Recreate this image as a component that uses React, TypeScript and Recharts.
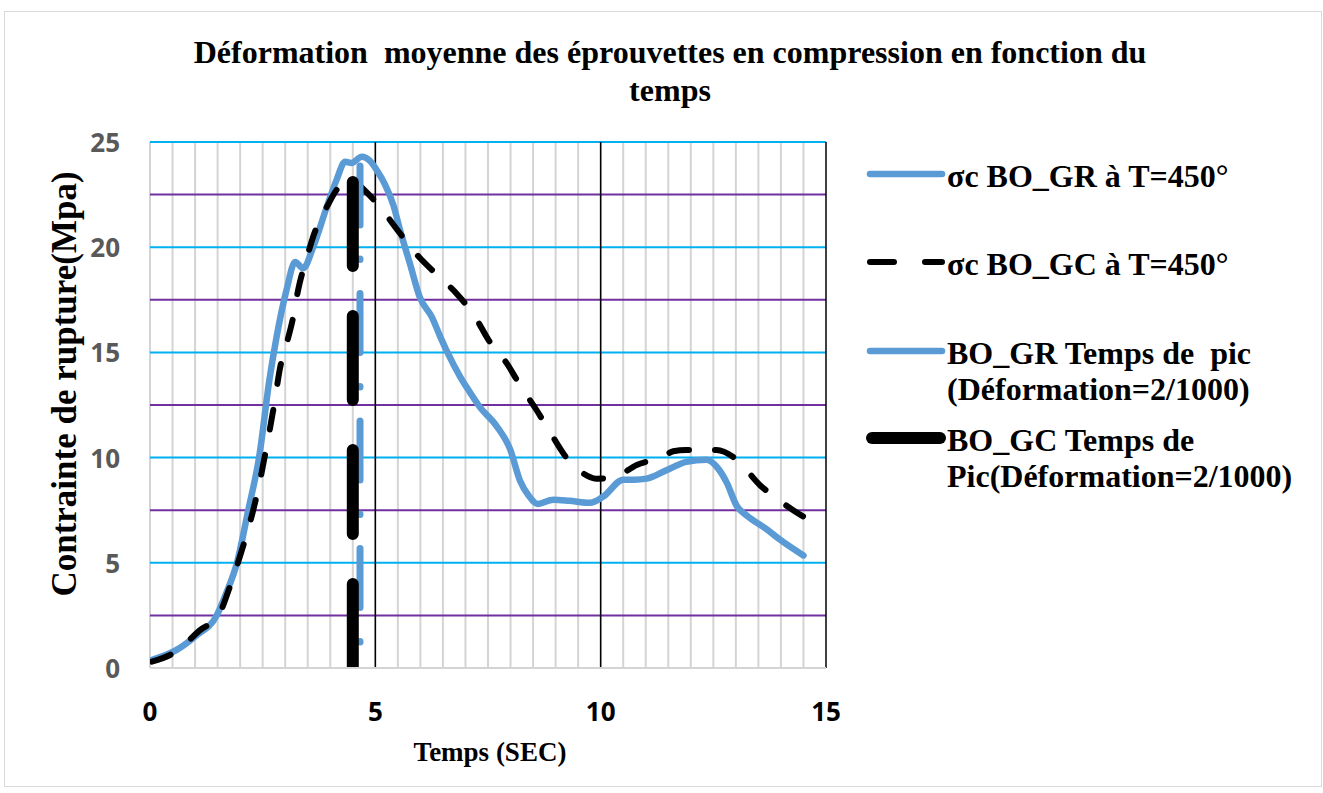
import { LineChart, Line, XAxis, YAxis, ReferenceLine } from 'recharts'

// σc BO_GR à T=450° (blue, solid)
const GR_X = [0.03, 0.59, 1.0, 1.48, 1.7, 1.93, 2.18, 2.42, 2.65, 2.81, 3.03, 3.22, 3.4, 3.62, 3.92, 4.14, 4.33, 4.47, 4.7, 4.88, 5.05, 5.21, 5.4, 5.55, 5.77, 5.99, 6.25, 6.43, 6.6, 6.88, 7.1, 7.32, 7.69, 7.99, 8.21, 8.4, 8.6, 8.95, 9.3, 9.76, 10.06, 10.5, 10.75, 11.02, 11.46, 11.9, 12.35, 12.6, 12.8, 13.02, 13.24, 13.68, 13.98, 14.5]
const GR_Y = [0.38, 0.86, 1.5, 2.5, 3.6, 5.0, 7.5, 10.0, 13.7, 15.75, 17.97, 19.3, 19.0, 20.0, 21.9, 23.2, 24.06, 24.0, 24.3, 24.1, 23.6, 23.0, 22.0, 20.8, 19.2, 17.6, 16.7, 15.8, 15.0, 13.85, 13.1, 12.4, 11.5, 10.4, 8.9, 8.2, 7.8, 8.0, 7.95, 7.85, 8.15, 8.95, 8.95, 9.0, 9.4, 9.8, 9.9, 9.5, 8.8, 7.7, 7.25, 6.6, 6.1, 5.35]

// σc BO_GC à T=450° (black, dashed)
const GC_X = [0.04, 0.59, 1.11, 1.52, 1.77, 1.95, 2.15, 2.29, 2.44, 2.55, 2.68, 2.77, 2.88, 3.03, 3.18, 3.29, 3.48, 3.62, 3.92, 4.22, 4.5, 4.81, 5.14, 5.55, 5.92, 6.36, 6.8, 7.21, 7.51, 7.91, 8.21, 8.58, 8.88, 9.24, 9.61, 9.9, 10.28, 10.8, 11.39, 11.61, 11.9, 12.57, 13.02, 13.53, 13.9, 14.5, 15.0]
const GC_Y = [0.3, 0.8, 1.8, 2.5, 3.85, 5.0, 6.4, 7.5, 8.9, 10.1, 11.6, 12.7, 14.2, 15.4, 16.7, 18.0, 19.5, 20.5, 21.9, 22.9, 23.1, 22.6, 21.8, 20.65, 19.65, 18.7, 17.8, 16.7, 15.6, 14.5, 13.45, 12.25, 11.2, 10.0, 9.25, 9.0, 9.05, 9.65, 10.05, 10.3, 10.36, 10.36, 9.9, 8.7, 8.07, 7.2, 6.75]

// peak time markers
const GR_PEAK_X = [4.66, 4.66]
const GR_PEAK_Y = [0, 24.25]
const GC_PEAK_X = [4.5, 4.5]
const GC_PEAK_Y = [0, 23.1]

const X_TICKS = [0, 5, 10, 15]
const Y_TICKS = [0, 5, 10, 15, 20, 25]
const MINOR_X = [0, 0.5, 1, 1.5, 2, 2.5, 3, 3.5, 4, 4.5, 5, 5.5, 6, 6.5, 7, 7.5, 8, 8.5, 9, 9.5, 10, 10.5, 11, 11.5, 12, 12.5, 13, 13.5, 14, 14.5]
const MAJOR_X = [5, 10, 15]
const CYAN_Y = [5, 10, 15, 20, 25]
const PURPLE_Y = [2.5, 7.5, 12.5, 17.5, 22.5]

const BLUE = '#5b9bd5'
const SERIF = '"Liberation Serif", "Times New Roman", serif'
const SANS = '"Open Sans", "Liberation Sans", sans-serif'

const toPoints = (xs: number[], ys: number[]) => xs.map((x, i) => ({ x, y: ys[i] }))

const grData = toPoints(GR_X, GR_Y)
const gcData = toPoints(GC_X, GC_Y)
const grPeak = toPoints(GR_PEAK_X, GR_PEAK_Y)
const gcPeak = toPoints(GC_PEAK_X, GC_PEAK_Y)

const XTick = (props: any) => {
    const { x, y, payload } = props
    return (
        <text x={x} y={y + 43} textAnchor="middle" dominantBaseline="central" fill="#000" fontSize={26} fontWeight={700} fontFamily={SANS}>
            {payload.value}
        </text>
    )
}

const YTick = (props: any) => {
    const { x, y, payload } = props
    return (
        <text x={x - 30} y={y} textAnchor="end" dominantBaseline="central" fill="#595959" fontSize={26} fontWeight={700} fontFamily={SANS}>
            {payload.value}
        </text>
    )
}

const LEGEND = [
    { top: 158, lines: ['σc BO_GR à T=450°'], kind: 'gr' },
    { top: 246, lines: ['σc BO_GC à T=450°'], kind: 'gc' },
    { top: 335, lines: ['BO_GR Temps de  pic', '(Déformation=2/1000)'], kind: 'grPeak' },
    { top: 422, lines: ['BO_GC Temps de ', 'Pic(Déformation=2/1000)'], kind: 'gcPeak' },
]

function LegendSample({ kind }: { kind: string }) {
    return (
        <svg width={80} height={20} style={{ position: 'absolute', left: 0, top: 6 }}>
            {kind === 'gr' && <line x1={4} y1={10} x2={76} y2={10} stroke={BLUE} strokeWidth={6.5} strokeLinecap="round" />}
            {kind === 'gc' && <line x1={4} y1={10} x2={76} y2={10} stroke="#000" strokeWidth={6} strokeLinecap="round" strokeDasharray="24 31" />}
            {kind === 'grPeak' && <line x1={4} y1={10} x2={76} y2={10} stroke={BLUE} strokeWidth={6.5} strokeLinecap="round" />}
            {kind === 'gcPeak' && <line x1={6} y1={10} x2={74} y2={10} stroke="#000" strokeWidth={12} strokeLinecap="round" />}
        </svg>
    )
}

export default function App() {
    return (
        <div style={{ position: 'absolute', left: 0, top: 0, width: 1323, height: 793, background: '#fff' }}>
            <div style={{ position: 'absolute', left: 4, top: 11, width: 1316, height: 774, border: '1px solid #d9d9d9' }} />

            <div style={{ position: 'absolute', left: 70, top: 33, width: 1200, textAlign: 'center', fontFamily: SERIF, fontWeight: 700, fontSize: 32, lineHeight: '38px', color: '#000' }}>
                Déformation&nbsp; moyenne des éprouvettes en compression en fonction du
                <br />
                temps
            </div>

            <div style={{ position: 'absolute', left: 65, top: 384, transform: 'translate(-50%, -50%) rotate(-90deg)', whiteSpace: 'nowrap', fontFamily: SERIF, fontWeight: 700, fontSize: 35, color: '#000' }}>
                Contrainte de rupture(Mpa)
            </div>

            <div style={{ position: 'absolute', left: 490, top: 752, transform: 'translate(-50%, -50%)', whiteSpace: 'nowrap', fontFamily: SERIF, fontWeight: 700, fontSize: 27, color: '#000' }}>
                Temps (SEC)
            </div>

            <div style={{ position: 'absolute', left: 0, top: 0 }}>
                <LineChart width={1323} height={793} margin={{ top: 142, right: 497, left: 90, bottom: 65 }}>
                    {MINOR_X.map((v) => (
                        <ReferenceLine key={`mx-${v}`} x={v} stroke="#d4d4d4" strokeWidth={2} zIndex={-50} />
                    ))}
                    {PURPLE_Y.map((v) => (
                        <ReferenceLine key={`py-${v}`} y={v} stroke="#7030a0" strokeWidth={2} zIndex={-50} />
                    ))}
                    {CYAN_Y.map((v) => (
                        <ReferenceLine key={`cy-${v}`} y={v} stroke="#00b0f0" strokeWidth={2} zIndex={-50} />
                    ))}
                    {MAJOR_X.map((v) => (
                        <ReferenceLine key={`bx-${v}`} x={v} stroke="#000" strokeWidth={1.5} zIndex={-50} />
                    ))}
                    <XAxis
                        type="number"
                        dataKey="x"
                        domain={[0, 15]}
                        ticks={X_TICKS}
                        tick={<XTick />}
                        tickSize={0}
                        tickMargin={0}
                        tickLine={false}
                        axisLine={{ stroke: '#d4d4d4', strokeWidth: 2 }}
                        height={60}
                        allowDataOverflow
                    />
                    <YAxis
                        type="number"
                        dataKey="y"
                        domain={[0, 25]}
                        ticks={Y_TICKS}
                        tick={<YTick />}
                        tickSize={0}
                        tickMargin={0}
                        tickLine={false}
                        axisLine={false}
                        width={60}
                        allowDataOverflow
                    />
                    <Line data={grData} dataKey="y" type="monotone" stroke={BLUE} strokeWidth={6.5} strokeLinecap="round" dot={false} activeDot={false} isAnimationActive={false} />
                    <Line data={gcData} dataKey="y" type="monotone" stroke="#000" strokeWidth={6} strokeLinecap="round" strokeDasharray="20 26" dot={false} activeDot={false} isAnimationActive={false} />
                    <Line data={grPeak} dataKey="y" type="linear" stroke={BLUE} strokeWidth={7} strokeLinecap="round" strokeDasharray="59 34 0.5 34" strokeDashoffset={67} dot={false} activeDot={false} isAnimationActive={false} />
                    <Line data={gcPeak} dataKey="y" type="linear" stroke="#000" strokeWidth={12} strokeLinecap="round" strokeDasharray="84 50" dot={false} activeDot={false} isAnimationActive={false} />
                </LineChart>
            </div>

            <div style={{ position: 'absolute', left: 866, top: 0 }}>
                {LEGEND.map((item) => (
                    <div key={item.kind} style={{ position: 'absolute', left: 0, top: item.top, width: 450 }}>
                        <LegendSample kind={item.kind} />
                        <div style={{ marginLeft: 81, fontFamily: SERIF, fontWeight: 700, fontSize: 32, lineHeight: '36px', whiteSpace: 'pre', color: '#000' }}>
                            {item.lines.map((l) => (
                                <div key={l}>{l}</div>
                            ))}
                        </div>
                    </div>
                ))}
            </div>
        </div>
    )
}
